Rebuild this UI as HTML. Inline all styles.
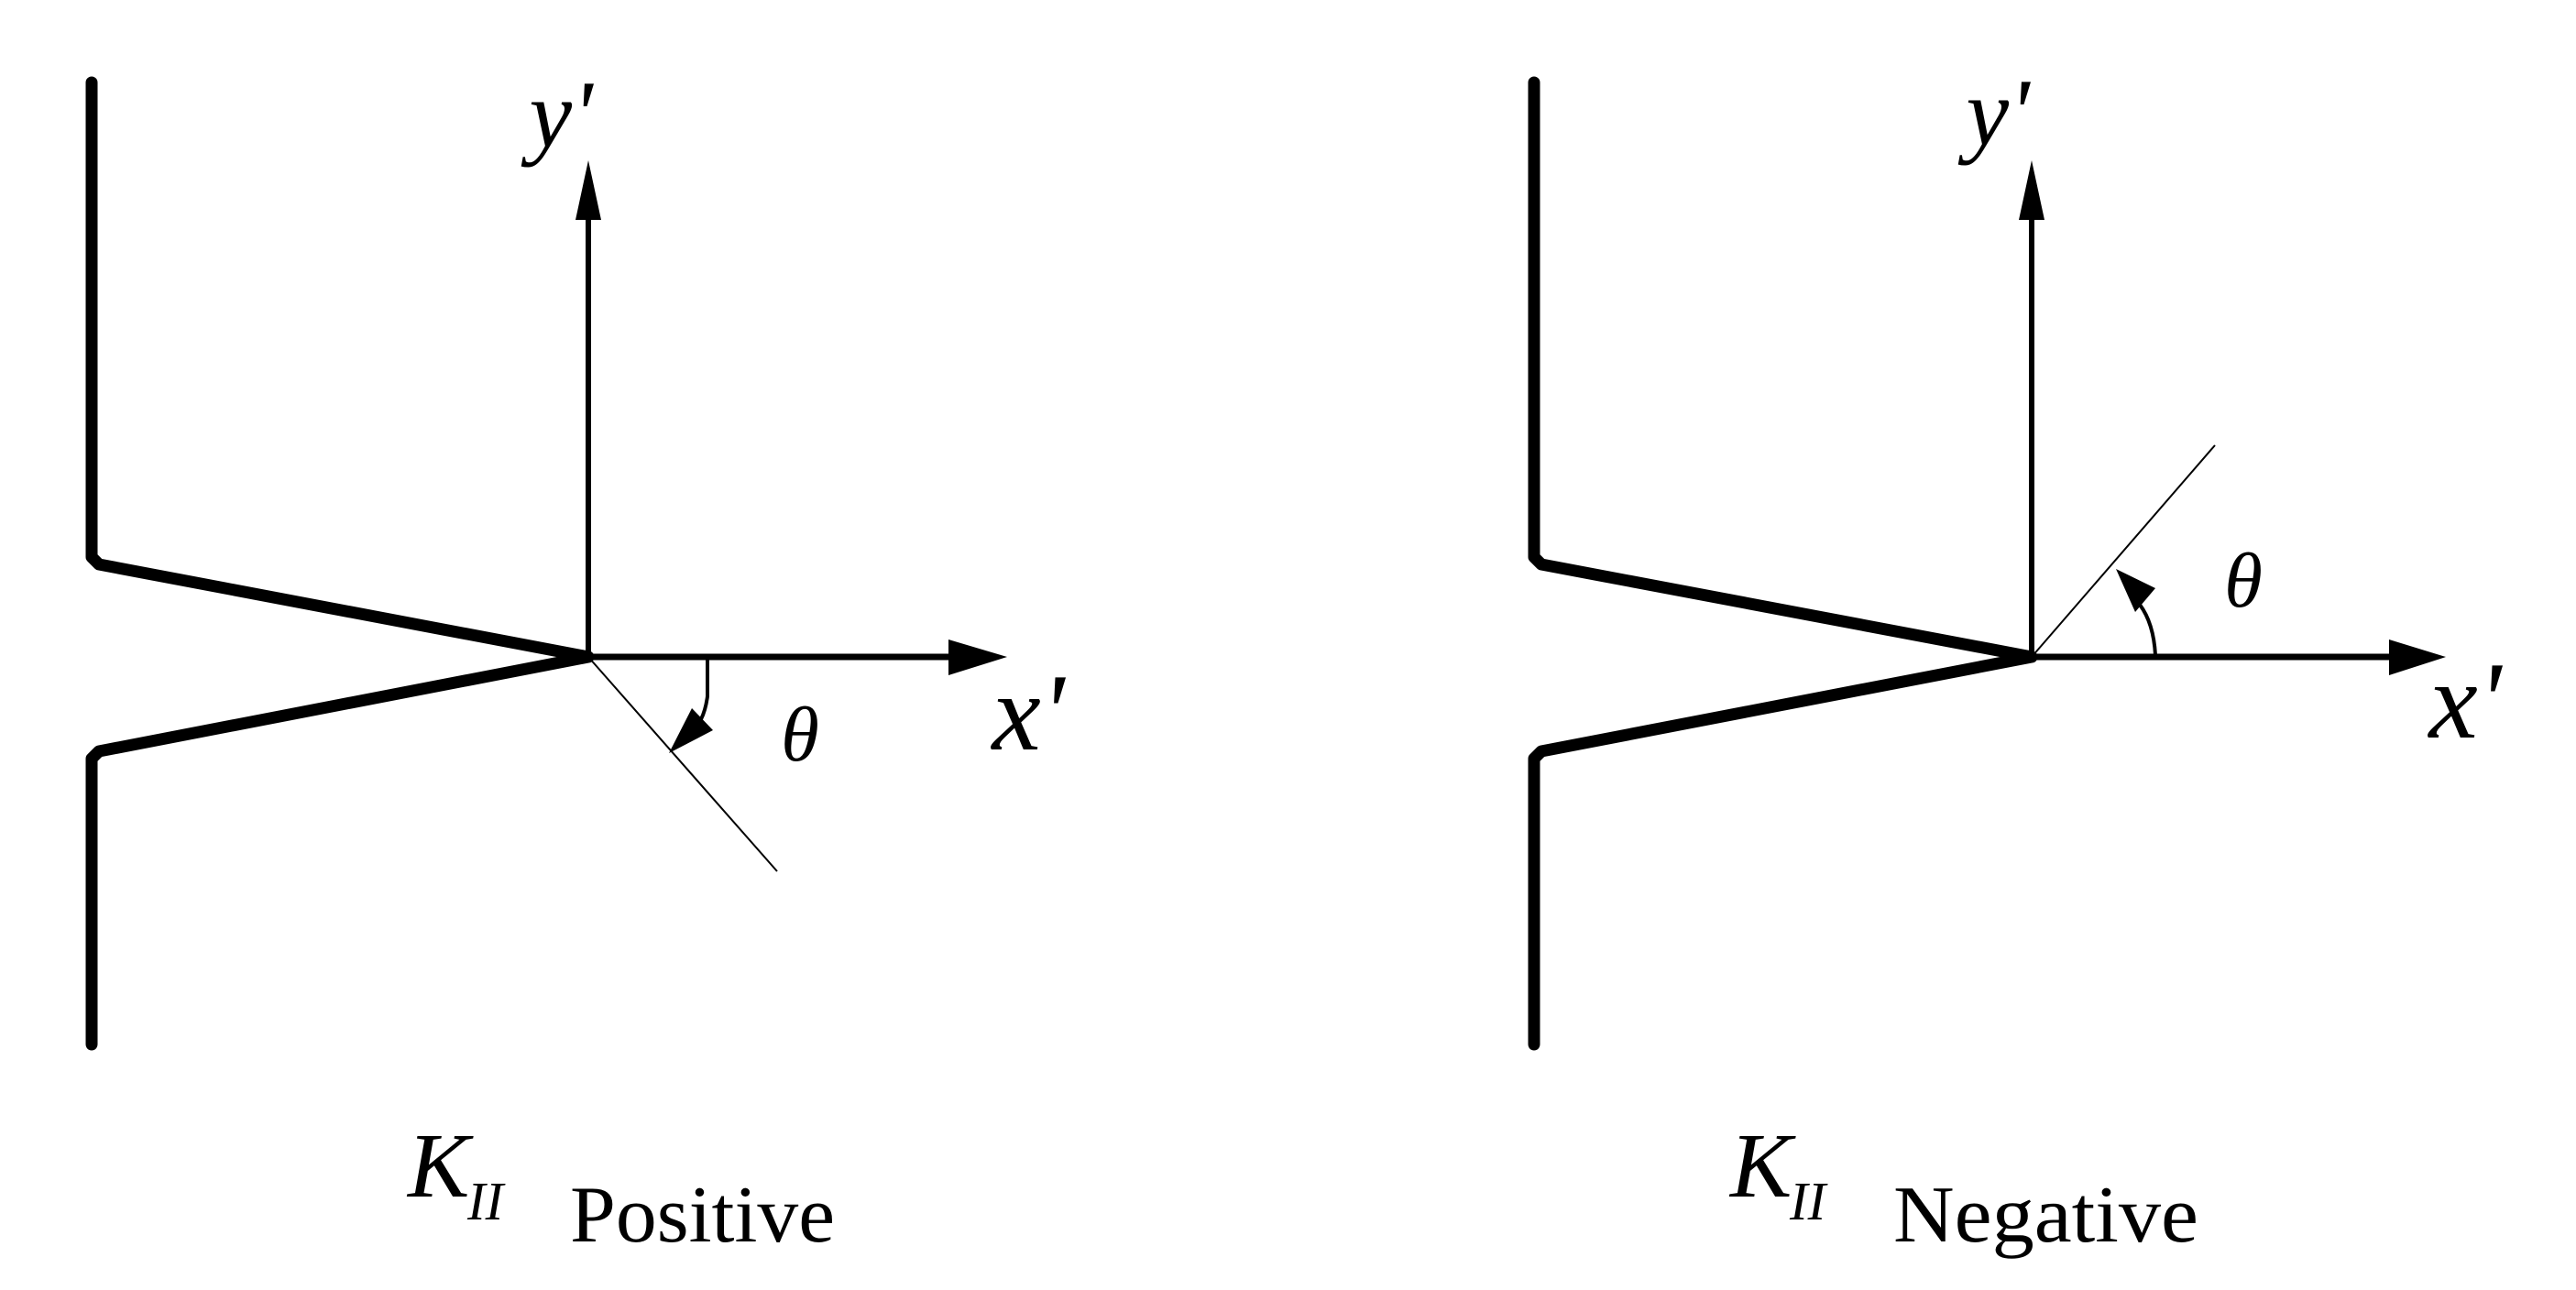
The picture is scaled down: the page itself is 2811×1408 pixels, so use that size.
<!DOCTYPE html>
<html><head><meta charset="utf-8"><style>html,body{margin:0;padding:0;background:#fff}svg{display:block}</style></head>
<body>
<svg width="2811" height="1408" viewBox="0 0 2811 1408" xmlns="http://www.w3.org/2000/svg" font-family="Liberation Serif, serif">
<rect width="2811" height="1408" fill="#fff"/>
<g id="L">
<polyline points="100,90 100,608 108,616 642,717 108,820 100,828 100,1140" fill="none" stroke="#000" stroke-width="13" stroke-linejoin="round" stroke-linecap="round"/>
<line x1="642" y1="717" x2="642" y2="235" stroke="#000" stroke-width="6"/>
<polygon points="642,175 628,240 656,240" fill="#000"/>
<line x1="642" y1="717" x2="1040" y2="717" stroke="#000" stroke-width="7"/>
<polygon points="1099,717 1035,698 1035,737" fill="#000"/>
<line x1="642" y1="717" x2="848" y2="951" stroke="#000" stroke-width="2"/>
<path d="M772,720 L772,760 Q770,775 765,785" fill="none" stroke="#000" stroke-width="4"/>
<polygon points="730,822 755,773 778,797" fill="#000"/>
<text x="873" y="830" font-size="85" font-style="italic" text-anchor="middle">θ</text>
<text x="1122" y="818" font-size="120" font-style="italic" text-anchor="middle">x'</text>
<text x="612" y="160" font-size="105" font-style="italic" text-anchor="middle">y'</text>
<text x="445" y="1306" font-size="101" font-style="italic">K</text>
<text x="510" y="1331" font-size="59" font-style="italic">II</text>
<text x="622" y="1355" font-size="88" textLength="289" lengthAdjust="spacingAndGlyphs">Positive</text>
</g>
<g id="R">
<polyline points="1674,90 1674,608 1682,616 2217,717 1682,820 1674,828 1674,1140" fill="none" stroke="#000" stroke-width="13" stroke-linejoin="round" stroke-linecap="round"/>
<line x1="2217" y1="717" x2="2217" y2="235" stroke="#000" stroke-width="6"/>
<polygon points="2217,175 2203,240 2231,240" fill="#000"/>
<line x1="2217" y1="717" x2="2615" y2="717" stroke="#000" stroke-width="7"/>
<polygon points="2669,717 2607,698 2607,737" fill="#000"/>
<line x1="2217" y1="717" x2="2417" y2="486" stroke="#000" stroke-width="2"/>
<path d="M2352,715 Q2350,680 2335,660" fill="none" stroke="#000" stroke-width="4"/>
<polygon points="2309,621 2352,642 2330,668" fill="#000"/>
<text x="2448" y="662" font-size="85" font-style="italic" text-anchor="middle">θ</text>
<text x="2690" y="805" font-size="120" font-style="italic" text-anchor="middle">x'</text>
<text x="2180" y="158" font-size="105" font-style="italic" text-anchor="middle">y'</text>
<text x="1888" y="1306" font-size="101" font-style="italic">K</text>
<text x="1953" y="1331" font-size="59" font-style="italic">II</text>
<text x="2066" y="1355" font-size="88" textLength="333" lengthAdjust="spacingAndGlyphs">Negative</text>
</g>
</svg>
</body></html>
